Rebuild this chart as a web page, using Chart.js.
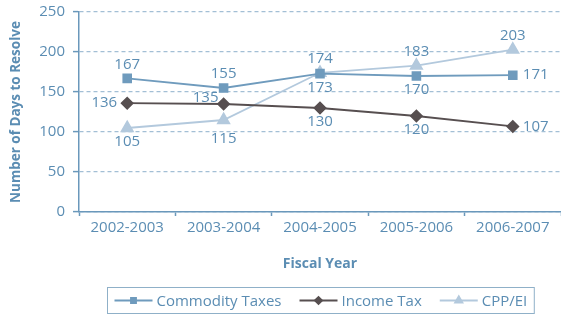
<!DOCTYPE html>
<html>
<head>
<meta charset="utf-8">
<script src="https://cdn.jsdelivr.net/npm/chart.js@4.4.1/dist/chart.umd.min.js"></script>
<style>
  html, body { margin: 0; padding: 0; background: #fff; }
  #wrap { width: 561px; height: 317px; }
</style>
</head>
<body>
<div id="wrap"><canvas id="myChart"></canvas></div>
<script>
  // data
  var years = ["2002-2003", "2003-2004", "2004-2005", "2005-2006", "2006-2007"];
  var commodityTaxes = [167, 155, 173, 170, 171];
  var incomeTax = [136, 135, 130, 120, 107];
  var cppEi = [105, 115, 174, 183, 203];
  var yTicks = [0, 50, 100, 150, 200, 250];

  var textBlue = "#5b8db3";
  var axisBlue = "#6a98bb";
  var gridBlue = "#a3bfd5";
  var fontFam = '"Open Sans", "DejaVu Sans", sans-serif';

  // value labels next to each point
  var pointLabels = {
    id: 'pointLabels',
    afterDatasetsDraw: function(chart) {
      var ctx = chart.ctx;
      ctx.save();
      ctx.font = '15px ' + fontFam;
      ctx.fillStyle = textBlue;
      ctx.textBaseline = 'middle';
      chart.data.datasets.forEach(function(ds, i) {
        chart.getDatasetMeta(i).data.forEach(function(pt, j) {
          var pos = ds.labelPos[j];
          var x = pt.x, y = pt.y;
          ctx.textAlign = 'center';
          if (pos == 'top') y -= 14;
          else if (pos == 'bottom') y += 14;
          else if (pos == 'bottomfar') y += 19;
          else if (pos == 'left') { ctx.textAlign = 'right'; x -= 10; }
          else if (pos == 'right') { ctx.textAlign = 'left'; x += 10; }
          else if (pos == 'topleft') { x -= 18; y -= 6; }
          ctx.fillText(ds.data[j], x, y);
        });
      });
      ctx.restore();
    }
  };

  // boxed legend with line + marker swatches
  var boxLegend = {
    id: 'boxLegend',
    afterDraw: function(chart) {
      var ctx = chart.ctx;
      var dsets = chart.data.datasets;
      ctx.save();
      ctx.font = '15px ' + fontFam;
      var lineLen = 38, gapTxt = 4, gapItem = 18, pad = 7;
      var total = pad * 2;
      dsets.forEach(function(ds, i) {
        total += lineLen + gapTxt + ctx.measureText(ds.label).width;
        if (i < dsets.length - 1) total += gapItem;
      });
      var ca = chart.chartArea;
      var left = Math.round((ca.left + ca.right) / 2 - total / 2) + 0.5;
      var top = chart.height - 29.5, h = 26;
      ctx.strokeStyle = "#8fb0c8";
      ctx.lineWidth = 1;
      ctx.strokeRect(left, top, total, h);
      var x = left + pad, cy = top + h / 2;
      dsets.forEach(function(ds) {
        ctx.strokeStyle = ds.borderColor;
        ctx.lineWidth = ds.borderWidth;
        ctx.beginPath();
        ctx.moveTo(x, cy);
        ctx.lineTo(x + lineLen, cy);
        ctx.stroke();
        ctx.fillStyle = ds.pointBackgroundColor;
        ctx.strokeStyle = ds.pointBackgroundColor;
        Chart.helpers.drawPoint(ctx, {
          pointStyle: ds.pointStyle, radius: ds.pointRadius * 0.65,
          borderWidth: 1, rotation: 0
        }, x + lineLen / 2, cy);
        x += lineLen + gapTxt;
        ctx.fillStyle = textBlue;
        ctx.textAlign = 'left';
        ctx.textBaseline = 'middle';
        ctx.fillText(ds.label, x, cy + 1);
        x += ctx.measureText(ds.label).width + gapItem;
      });
      ctx.restore();
    }
  };

  var ctx = document.getElementById("myChart").getContext('2d');
  var myChart = new Chart(ctx, {
    type: 'line',
    data: {
      labels: years,
      datasets: [{
        label: 'Commodity Taxes',
        data: commodityTaxes,
        borderColor: "#6f9bbd",
        backgroundColor: "#6f9bbd",
        pointBackgroundColor: "#6f9bbd",
        pointBorderColor: "#6f9bbd",
        borderWidth: 1.8,
        pointStyle: 'rect',
        pointRadius: 5.5,
        labelPos: ['top', 'top', 'bottom', 'bottom', 'right']
      }, {
        label: 'Income Tax',
        data: incomeTax,
        borderColor: "#574f50",
        backgroundColor: "#574f50",
        pointBackgroundColor: "#574f50",
        pointBorderColor: "#574f50",
        borderWidth: 1.8,
        pointStyle: 'rectRot',
        pointRadius: 5.5,
        labelPos: ['left', 'topleft', 'bottom', 'bottom', 'right']
      }, {
        label: 'CPP/EI',
        data: cppEi,
        borderColor: "#b3c9dd",
        backgroundColor: "#b3c9dd",
        pointBackgroundColor: "#b3c9dd",
        pointBorderColor: "#b3c9dd",
        borderWidth: 1.8,
        pointStyle: 'triangle',
        pointRadius: 6.5,
        labelPos: ['bottom', 'bottomfar', 'top', 'top', 'top']
      }]
    },
    options: {
      responsive: true,
      maintainAspectRatio: false,
      animation: false,
      layout: { autoPadding: false, padding: { left: 0, right: 0, top: 12, bottom: 45 } },
      plugins: {
        legend: { display: false },
        tooltip: { enabled: false }
      },
      scales: {
        x: {
          offset: true,
          afterFit: function(scale) {
            scale.height = 60;
            scale.paddingLeft = 0;
            scale.paddingRight = 0;
          },
          grid: {
            offset: true,
            drawOnChartArea: false,
            tickLength: 4,
            tickColor: axisBlue,
            tickWidth: 1.5
          },
          border: { color: axisBlue, width: 1.5 },
          ticks: {
            color: textBlue,
            padding: 3,
            maxRotation: 0,
            font: { family: fontFam, size: 15 }
          },
          title: {
            display: true,
            text: 'Fiscal Year',
            color: textBlue,
            padding: { top: 16, bottom: 0 },
            font: { family: fontFam, size: 14, weight: 'bold' }
          }
        },
        y: {
          min: yTicks[0],
          max: yTicks[yTicks.length - 1],
          afterBuildTicks: function(scale) {
            scale.ticks = yTicks.map(function(v) { return { value: v }; });
          },
          afterFit: function(scale) {
            scale.width = 79;
            scale.paddingTop = 0;
            scale.paddingBottom = 0;
          },
          grid: {
            color: gridBlue,
            lineWidth: 1.2,
            tickBorderDash: [],
            tickColor: axisBlue,
            tickLength: 6,
            tickWidth: 1.5
          },
          border: { color: axisBlue, width: 1.5, dash: [4, 3] },
          ticks: {
            color: textBlue,
            padding: 8,
            font: { family: fontFam, size: 15 }
          },
          title: {
            display: true,
            text: 'Number of Days to Resolve',
            color: textBlue,
            padding: { top: 8, bottom: 0 },
            font: { family: fontFam, size: 13.5, weight: 'bold' }
          }
        }
      }
    },
    plugins: [pointLabels, boxLegend]
  });
</script>
</body>
</html>
